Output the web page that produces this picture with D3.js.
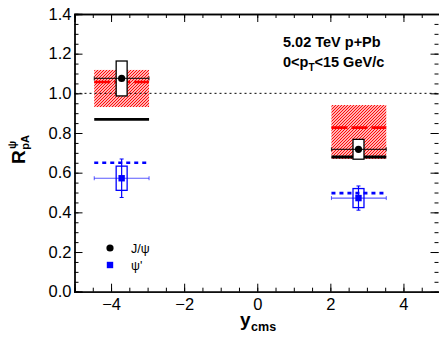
<!DOCTYPE html>
<html><head><meta charset="utf-8">
<script src="https://cdn.jsdelivr.net/npm/d3@7"></script>
<style>
html,body{margin:0;padding:0;background:#fff;}
svg{display:block;font-family:"Liberation Sans",Arial,Helvetica,sans-serif;}
</style></head>
<body><svg id="c" width="439" height="344"></svg>
<script>
// ---- data ----
const binLo = [-4.46, 2.03];
const binHi = [-2.96, 3.53];
const yCenter = [-3.71, 2.77];
const jpsiVal = [1.075, 0.718];
const jpsiStat = [0.01, 0.01];
const jpsiSyst = [0.088, 0.05];
const psi2Val = [0.572, 0.472];
const psi2Stat = [0.097, 0.061];
const psi2Syst = [0.061, 0.048];
const bandLo = [0.931, 0.669];
const bandHi = [1.118, 0.941];
const bandMid = [1.057, 0.827];
const modelJpsi = [0.869, 0.679];
const modelPsi2 = [0.650, 0.497];
const xTicks = [-4, -2, 0, 2, 4];
const yTicks = [0, 0.2, 0.4, 0.6, 0.8, 1.0, 1.2, 1.4];
const boxHalf = 0.15;

(function () {
const svg = d3.select("#c");
const L = 74.5, R = 440, T = 14, B = 291.7;
const x = d3.scaleLinear().domain([-5, 5]).range([L, R]);
const y = d3.scaleLinear().domain([0, 1.4]).range([B, T]);
const idx = d3.range(binLo.length);

// hatch pattern
const defs = svg.append("defs");
const pat = defs.append("pattern").attr("id", "hatch").attr("patternUnits", "userSpaceOnUse")
  .attr("width", 3).attr("height", 3);
pat.append("path").attr("d", "M-1,1 l2,-2 M0,3 l3,-3 M2,4 l2,-2")
  .attr("stroke", "#ff0000").attr("stroke-width", 1.15);

const g = svg.append("g");

g.selectAll("rect.band").data(idx).join("rect")
  .attr("x", i => x(binLo[i])).attr("width", i => x(binHi[i]) - x(binLo[i]))
  .attr("y", i => y(bandHi[i])).attr("height", i => y(bandLo[i]) - y(bandHi[i]))
  .attr("fill", "url(#hatch)").attr("stroke", "none");

g.append("line").attr("x1", L).attr("x2", R).attr("y1", y(1)).attr("y2", y(1))
  .attr("stroke", "#000").attr("stroke-width", 1).attr("stroke-dasharray", "2,3");

g.selectAll("line.redmid").data(idx).join("line")
  .attr("x1", i => x(binLo[i])).attr("x2", i => x(binHi[i]))
  .attr("y1", i => y(bandMid[i])).attr("y2", i => y(bandMid[i]))
  .attr("stroke", "#ff0000").attr("stroke-width", 2.6).attr("stroke-dasharray", "16,4");

g.selectAll("line.bk").data(idx).join("line")
  .attr("x1", i => x(binLo[i])).attr("x2", i => x(binHi[i]))
  .attr("y1", i => y(modelJpsi[i])).attr("y2", i => y(modelJpsi[i]))
  .attr("stroke", "#000").attr("stroke-width", 2.8);

g.selectAll("line.bl").data(idx).join("line")
  .attr("x1", i => x(binLo[i])).attr("x2", i => x(binHi[i]))
  .attr("y1", i => y(modelPsi2[i])).attr("y2", i => y(modelPsi2[i]))
  .attr("stroke", "#0000ff").attr("stroke-width", 2.6).attr("stroke-dasharray", "4,4");

g.selectAll("rect.js").data(idx).join("rect")
  .attr("x", i => x(yCenter[i] - boxHalf)).attr("width", i => x(yCenter[i] + boxHalf) - x(yCenter[i] - boxHalf))
  .attr("y", i => y(jpsiVal[i] + jpsiSyst[i])).attr("height", i => y(jpsiVal[i] - jpsiSyst[i]) - y(jpsiVal[i] + jpsiSyst[i]))
  .attr("fill", "#fff").attr("stroke", "#000").attr("stroke-width", 1.3);

g.selectAll("rect.ps").data(idx).join("rect")
  .attr("x", i => x(yCenter[i] - boxHalf)).attr("width", i => x(yCenter[i] + boxHalf) - x(yCenter[i] - boxHalf))
  .attr("y", i => y(psi2Val[i] + psi2Syst[i])).attr("height", i => y(psi2Val[i] - psi2Syst[i]) - y(psi2Val[i] + psi2Syst[i]))
  .attr("fill", "none").attr("stroke", "#0000ff").attr("stroke-width", 1.3);

function errBars(vals, stat, color, width, opacity) {
  idx.forEach(i => {
    const cy = y(vals[i]);
    g.append("line").attr("x1", x(binLo[i])).attr("x2", x(binHi[i])).attr("y1", cy).attr("y2", cy)
      .attr("stroke", color).attr("stroke-width", width).attr("stroke-opacity", opacity);
    [binLo[i], binHi[i]].forEach(b => g.append("line").attr("x1", x(b)).attr("x2", x(b))
      .attr("y1", cy - 2).attr("y2", cy + 2).attr("stroke", color).attr("stroke-width", 1).attr("stroke-opacity", opacity));
    const cx = x(yCenter[i]);
    g.append("line").attr("x1", cx).attr("x2", cx).attr("y1", y(vals[i] + stat[i])).attr("y2", y(vals[i] - stat[i]))
      .attr("stroke", color).attr("stroke-width", 1.2);
    [vals[i] + stat[i], vals[i] - stat[i]].forEach(v => g.append("line").attr("x1", cx - 2).attr("x2", cx + 2)
      .attr("y1", y(v)).attr("y2", y(v)).attr("stroke", color).attr("stroke-width", 1));
  });
}
errBars(jpsiVal, jpsiStat, "#000", 1.3, 0.8);
errBars(psi2Val, psi2Stat, "#0000ff", 1.2, 0.65);

g.selectAll("circle.jp").data(idx).join("circle")
  .attr("cx", i => x(yCenter[i])).attr("cy", i => y(jpsiVal[i])).attr("r", 3.6).attr("fill", "#000");
g.selectAll("rect.pm").data(idx).join("rect")
  .attr("x", i => x(yCenter[i]) - 3.2).attr("y", i => y(psi2Val[i]) - 3.2).attr("width", 6.4).attr("height", 6.4)
  .attr("fill", "#0000ff");

// axes
const ax = svg.append("g");
const fmtY = d3.format(".1f");
const xMinor = d3.range(-5, 5.01, 0.5);
const yMinor = d3.range(0, 1.401, 0.05);
ax.append("g").attr("transform", `translate(0,${B})`)
  .call(d3.axisBottom(x).tickValues(xTicks).tickSize(-8).tickPadding(7));
ax.append("g").attr("transform", `translate(0,${B})`)
  .call(d3.axisBottom(x).tickValues(xMinor).tickSize(-4).tickFormat(""));
ax.append("g").attr("transform", `translate(0,${T})`)
  .call(d3.axisTop(x).tickValues(xTicks).tickSize(-8).tickFormat(""));
ax.append("g").attr("transform", `translate(0,${T})`)
  .call(d3.axisTop(x).tickValues(xMinor).tickSize(-4).tickFormat(""));
ax.append("g").attr("transform", `translate(${L},0)`)
  .call(d3.axisLeft(y).tickValues(yTicks).tickSize(-8).tickPadding(3).tickFormat(fmtY));
ax.append("g").attr("transform", `translate(${L},0)`)
  .call(d3.axisLeft(y).tickValues(yMinor).tickSize(-4).tickFormat(""));
const rightAx = ax.append("g").attr("transform", `translate(${R - 1.5},0)`)
  .call(d3.axisRight(y).tickValues(yTicks).tickSize(-8).tickFormat(""));
const rightAxM = ax.append("g").attr("transform", `translate(${R - 1.5},0)`)
  .call(d3.axisRight(y).tickValues(yMinor).tickSize(-4).tickFormat(""));
ax.selectAll(".domain").attr("stroke", "#000").attr("stroke-width", 1.3);
rightAx.select(".domain").remove(); rightAxM.select(".domain").remove();
ax.selectAll(".tick line").attr("stroke", "#000").attr("stroke-width", 1);
ax.selectAll(".tick text").attr("font-size", 16.5).attr("fill", "#000")
  .attr("font-family", "'Liberation Sans', Arial, sans-serif");

// axis titles
const xl = svg.append("text").attr("x", 240).attr("y", 326).attr("font-weight", "bold").attr("font-size", 19);
xl.append("tspan").text("y");
xl.append("tspan").attr("font-size", 12.5).attr("dy", 5).attr("dx", 0.5).text("cms");

const yl = svg.append("text").attr("transform", "translate(25,164) rotate(-90)")
  .attr("font-weight", "bold").attr("font-size", 19);
yl.append("tspan").text("R");
yl.append("tspan").attr("font-size", 11).attr("dy", 4).attr("dx", 0.5).text("pA");
yl.append("tspan").attr("font-size", 11).attr("dx", -14).attr("dy", -13).text("ψ");

// annotation
svg.append("text").attr("x", 283).attr("y", 46.5).attr("font-weight", "bold").attr("font-size", 14.5)
  .text("5.02 TeV p+Pb");
const t2 = svg.append("text").attr("x", 283).attr("y", 66.5).attr("font-weight", "bold").attr("font-size", 14.5);
t2.append("tspan").text("0<p");
t2.append("tspan").attr("font-size", 10).attr("dy", 4).text("T");
t2.append("tspan").attr("dy", -4).text("<15 GeV/c");

// legend
const legNames = ["J/ψ", "ψ'"];
const legY = [248, 265];
svg.append("circle").attr("cx", 110).attr("cy", legY[0]).attr("r", 3.6).attr("fill", "#000");
svg.append("rect").attr("x", 106.8).attr("y", legY[1] - 3.2).attr("width", 6.4).attr("height", 6.4).attr("fill", "#0000ff");
legNames.forEach((n, i) => svg.append("text").attr("x", 131).attr("y", legY[i] + 4.5)
  .attr("font-size", 12.5).text(n));
})();
</script></body></html>
